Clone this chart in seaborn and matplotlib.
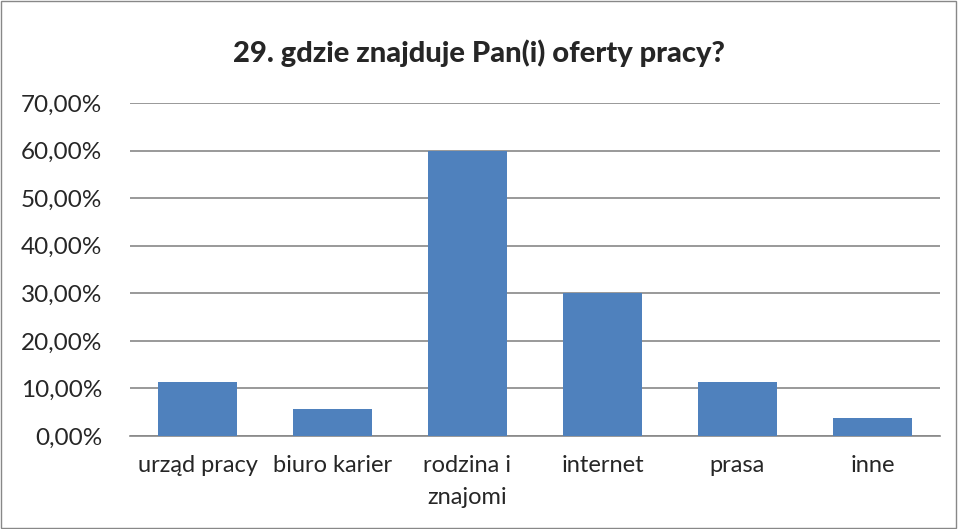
import pandas as pd
import matplotlib.pyplot as plt
import seaborn as sns
from matplotlib.patches import Rectangle

categories = ["urząd pracy", "biuro karier", "rodzina i\nznajomi", "internet", "prasa", "inne"]
values = [11.43, 5.71, 60.0, 30.0, 11.43, 3.8]
y_ticks = [0, 10, 20, 30, 40, 50, 60, 70]
title = "29. gdzie znajduje Pan(i) oferty pracy?"

df = pd.DataFrame({"miejsce": categories, "procent": values})

sns.set_style("white")
plt.rcParams['font.family'] = ['Lato', 'DejaVu Sans']

fig = plt.figure(figsize=(9.58, 5.29), dpi=100)
ax = fig.add_axes([0.1357, 0.1758, 0.8455, 0.6295])

sns.barplot(data=df, x="miejsce", y="procent", color="#4F81BD", width=0.58,
            saturation=1, linewidth=0, ax=ax, zorder=3)

ax.set_ylim(0, 70)
ax.set_yticks(y_ticks)
ax.set_yticklabels([f"{v:.2f}%".replace(".", ",") for v in y_ticks], fontsize=17.5)
for lbl in ax.get_xticklabels():
    lbl.set_linespacing(1.6)
ax.tick_params(axis="x", labelsize=17, length=0, pad=14)
ax.tick_params(axis="y", length=0, pad=20)
ax.yaxis.grid(True, color="#888888", linewidth=1.2, zorder=0)
ax.set_axisbelow(True)
ax.set_xlabel("")
ax.set_ylabel("")
for s in ["left", "right", "top"]:
    ax.spines[s].set_visible(False)
ax.spines["bottom"].set_color("#888888")
ax.spines["bottom"].set_linewidth(1.2)

fig.text(0.5, 0.9, title, ha="center", va="center", fontsize=21, fontweight="black")

# outer chart border
fig.patches.append(Rectangle((0.001, 0.001), 0.997, 0.997, transform=fig.transFigure,
                             fill=False, edgecolor="#888888", linewidth=1))

fig.savefig("out.png", dpi=100)
